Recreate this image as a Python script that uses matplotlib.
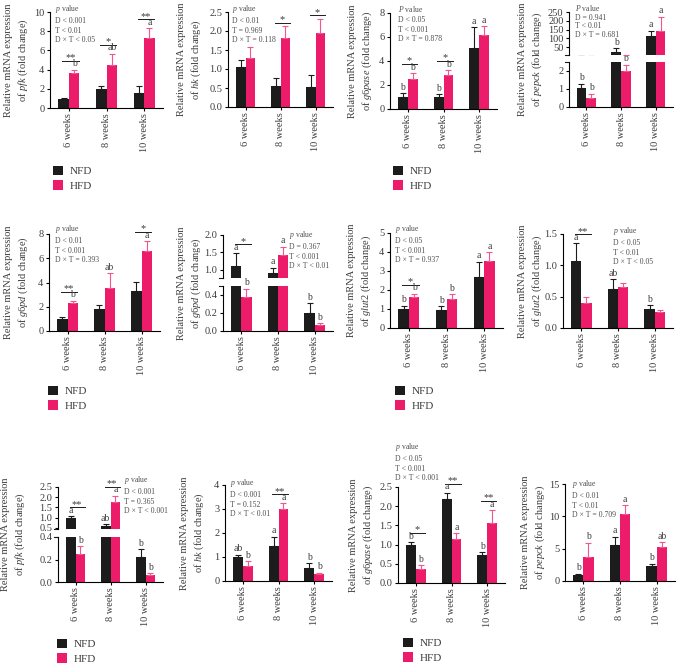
import numpy as np
import matplotlib
matplotlib.use("Agg")
import matplotlib.pyplot as plt
from matplotlib.patches import Patch

plt.rcParams["font.family"] = ["Liberation Serif", "DejaVu Serif"]
plt.rcParams["mathtext.fontset"] = "custom"
plt.rcParams["mathtext.rm"] = "Liberation Serif"
plt.rcParams["mathtext.it"] = "Liberation Serif:italic"

W, H = 681, 664
BLACK = "#1c1c1c"
PINK = "#ec1c6b"
PINK_ERR = "#f2568f"
TEXT = "#3c3c3c"
BW = 0.28

weeks = ["6 weeks", "8 weeks", "10 weeks"]
groups = ["NFD", "HFD"]

# ---- row 1 ----
r1_pfk_nfd = [0.95, 2.0, 1.6]
r1_pfk_nfd_err = [0.1, 0.25, 0.7]
r1_pfk_hfd = [3.65, 4.45, 7.25]
r1_pfk_hfd_err = [0.35, 1.2, 1.05]

r1_hk_nfd = [1.05, 0.55, 0.52]
r1_hk_nfd_err = [0.2, 0.22, 0.32]
r1_hk_hfd = [1.3, 1.81, 1.96]
r1_hk_hfd_err = [0.27, 0.31, 0.36]

r1_g6pase_nfd = [1.0, 1.03, 5.1]
r1_g6pase_nfd_err = [0.3, 0.18, 1.7]
r1_g6pase_hfd = [2.53, 2.87, 6.18]
r1_g6pase_hfd_err = [0.45, 0.38, 0.7]

r1_pepck_nfd = [1.05, 22, 113]
r1_pepck_nfd_err = [0.25, 22, 30]
r1_pepck_hfd = [0.5, 2.0, 143]
r1_pepck_hfd_err = [0.25, 0.35, 80]

# ---- row 2 ----
r2_g6pd_nfd = [1.02, 1.8, 3.28]
r2_g6pd_nfd_err = [0.1, 0.33, 0.8]
r2_g6pd_hfd = [2.35, 3.56, 6.57]
r2_g6pd_hfd_err = [0.15, 1.2, 0.83]

r2_g6pd2_nfd = [1.12, 0.9, 0.2]
r2_g6pd2_nfd_err = [0.35, 0.16, 0.11]
r2_g6pd2_hfd = [0.38, 1.41, 0.066]
r2_g6pd2_hfd_err = [0.09, 0.25, 0.02]

r2_glut2_nfd = [1.0, 0.95, 2.68]
r2_glut2_nfd_err = [0.17, 0.2, 0.8]
r2_glut2_hfd = [1.65, 1.5, 3.5]
r2_glut2_hfd_err = [0.15, 0.28, 0.48]

r2_glut2b_nfd = [1.07, 0.63, 0.31]
r2_glut2b_nfd_err = [0.28, 0.15, 0.05]
r2_glut2b_hfd = [0.4, 0.65, 0.25]
r2_glut2b_hfd_err = [0.09, 0.07, 0.04]

# ---- row 3 ----
r3_pfk_nfd = [1.0, 0.59, 0.22]
r3_pfk_nfd_err = [0.06, 0.08, 0.07]
r3_pfk_hfd = [0.25, 1.78, 0.06]
r3_pfk_hfd_err = [0.07, 0.3, 0.02]

r3_hk_nfd = [0.99, 1.46, 0.54]
r3_hk_nfd_err = [0.1, 0.38, 0.2]
r3_hk_hfd = [0.63, 2.98, 0.29]
r3_hk_hfd_err = [0.2, 0.25, 0.05]

r3_g6pase_nfd = [1.0, 2.18, 0.73]
r3_g6pase_nfd_err = [0.07, 0.17, 0.08]
r3_g6pase_hfd = [0.37, 1.14, 1.55]
r3_g6pase_hfd_err = [0.1, 0.15, 0.35]

r3_pepck_nfd = [0.93, 5.55, 2.39]
r3_pepck_nfd_err = [0.2, 1.3, 0.3]
r3_pepck_hfd = [3.74, 10.3, 5.2]
r3_pepck_hfd_err = [2.2, 1.45, 0.8]

# letters (NFD, HFD) and significance stars per week
letters = {
    "r1_pfk": (["", "", ""], ["b", "ab", "a"]),
    "r1_hk": (["", "", ""], ["", "", ""]),
    "r1_g6pase": (["b", "b", "a"], ["b", "b", "a"]),
    "r1_pepck": (["b", "b", "a"], ["b", "b", "a"]),
    "r2_g6pd": (["", "", ""], ["b", "ab", "a"]),
    "r2_g6pd2": (["a", "a", "b"], ["b", "a", "b"]),
    "r2_glut2": (["b", "b", "a"], ["b", "b", "a"]),
    "r2_glut2b": (["a", "ab", "b"], ["", "", ""]),
    "r3_pfk": (["a", "ab", "b"], ["b", "a", "b"]),
    "r3_hk": (["ab", "a", "b"], ["b", "a", "b"]),
    "r3_g6pase": (["b", "a", "b"], ["b", "a", "a"]),
    "r3_pepck": (["b", "a", "b"], ["b", "a", "ab"]),
}
stars = {
    "r1_pfk": ["**", "*", "**"],
    "r1_hk": ["", "*", "*"],
    "r1_g6pase": ["*", "*", ""],
    "r1_pepck": ["", "", ""],
    "r2_g6pd": ["**", "", "*"],
    "r2_g6pd2": ["*", "", ""],
    "r2_glut2": ["*", "", ""],
    "r2_glut2b": ["**", "", ""],
    "r3_pfk": ["**", "**", ""],
    "r3_hk": ["", "**", ""],
    "r3_g6pase": ["*", "**", "**"],
    "r3_pepck": ["", "", ""],
}
pvalues = {
    "r1_pfk": "$p$ value\nD < 0.001\nT < 0.01\nD × T < 0.05",
    "r1_hk": "$p$ value\nD < 0.01\nT = 0.969\nD × T = 0.118",
    "r1_g6pase": "$P$ value\nD < 0.05\nT < 0.001\nD × T = 0.878",
    "r1_pepck": "$P$ value\nD = 0.941\nT < 0.01\nD × T = 0.681",
    "r2_g6pd": "$p$ value\nD < 0.01\nT < 0.001\nD × T = 0.393",
    "r2_g6pd2": "$p$ value\nD = 0.367\nT < 0.001\nD × T < 0.01",
    "r2_glut2": "$p$ value\nD < 0.05\nT < 0.001\nD × T = 0.937",
    "r2_glut2b": "$p$ value\nD < 0.05\nT < 0.01\nD × T < 0.05",
    "r3_pfk": "$p$ value\nD < 0.001\nT = 0.365\nD × T < 0.001",
    "r3_hk": "$p$ value\nD < 0.001\nT = 0.152\nD × T < 0.01",
    "r3_g6pase": "$p$ value\nD < 0.05\nT < 0.001\nD × T < 0.001",
    "r3_pepck": "$p$ value\nD < 0.01\nT < 0.01\nD × T = 0.709",
}

x = np.arange(len(weeks))
fig = plt.figure(figsize=(W / 100, H / 100), dpi=100)


def pbox(l, t, r, b):
    return [l / W, 1 - b / H, (r - l) / W, (b - t) / H]


def style(ax, bottom):
    for s in ("top", "right"):
        ax.spines[s].set_visible(False)
    ax.spines["left"].set_linewidth(0.8)
    ax.spines["bottom"].set_linewidth(0.8)
    ax.tick_params(axis="y", length=2.5, width=0.8, labelsize=7.5, labelcolor=TEXT, pad=1.5)
    ax.set_xlim(-0.5, 2.5)
    if bottom:
        ax.set_xticks(x)
        ax.set_xticklabels(weeks, rotation=90)
        ax.tick_params(axis="x", length=2, width=0.8, labelsize=7.5, labelcolor=TEXT, pad=2)
    else:
        ax.spines["bottom"].set_visible(False)
        ax.set_xticks([])


def draw_bars(ax, nfd, nfd_err, hfd, hfd_err):
    ax.bar(x - BW / 2, nfd, BW, color=BLACK, zorder=2)
    ax.bar(x + BW / 2, hfd, BW, color=PINK, zorder=2)
    ax.errorbar(x - BW / 2, nfd, yerr=[np.zeros(3), nfd_err], fmt="none", ecolor=BLACK,
                elinewidth=0.8, capsize=2.2, capthick=0.8, zorder=3)
    ax.errorbar(x + BW / 2, hfd, yerr=[np.zeros(3), hfd_err], fmt="none", ecolor=PINK_ERR,
                elinewidth=0.8, capsize=2.2, capthick=0.8, zorder=3)


def pick(axes, v):
    if len(axes) == 1 or v <= axes[0][1][1]:
        return axes[0][0]
    return axes[1][0]


def draw_panel(key, gene, data, box, ylim, yticks, fmt, pval_xy, label_x, split=None, lsp=1.3):
    nfd, nfd_err, hfd, hfd_err = data
    l, t, r, b = box
    if split:
        ub, lt, ylim2, yticks2 = split
        lo = fig.add_axes(pbox(l, lt, r, b))
        up = fig.add_axes(pbox(l, t, r, ub))
        axes = [(lo, ylim, yticks), (up, ylim2, yticks2)]
    else:
        lo = fig.add_axes(pbox(l, t, r, b))
        axes = [(lo, ylim, yticks)]
    for i, (ax, lim, ticks) in enumerate(axes):
        draw_bars(ax, nfd, nfd_err, hfd, hfd_err)
        ax.set_ylim(lim)
        ax.set_yticks(ticks)
        ax.set_yticklabels([fmt.format(v) for v in ticks])
        style(ax, bottom=(i == 0))
    if split:
        axes[0][0].plot([-0.035, 0], [1, 1], transform=axes[0][0].transAxes, color=BLACK, lw=0.8, clip_on=False)
        axes[1][0].plot([-0.035, 0], [0, 0], transform=axes[1][0].transAxes, color=BLACK, lw=0.8, clip_on=False)

    nl, hl = letters[key]
    for i in range(3):
        for off, vals, errs, lets in ((-BW / 2, nfd, nfd_err, nl), (BW / 2, hfd, hfd_err, hl)):
            if lets[i]:
                top = vals[i] + errs[i]
                ax = pick(axes, top)
                ax.annotate(lets[i], (i + off, top), xytext=(0, 1), textcoords="offset points",
                            ha="center", va="bottom", fontsize=7, color=TEXT, annotation_clip=False)
    for i, s in enumerate(stars[key]):
        if not s:
            continue
        top = max(nfd[i] + nfd_err[i], hfd[i] + hfd_err[i])
        ax = pick(axes, top)
        pad = 9 if (nl[i] or hl[i]) else 3.5
        yd = ax.transData.transform((i, top))[1] + pad
        y = ax.transData.inverted().transform((0, yd))[1]
        ax.plot([i - 0.17, i + 0.26], [y, y], color=BLACK, lw=0.7, clip_on=False)
        ax.annotate(s, (i + 0.045, y), xytext=(0, 0.5), textcoords="offset points",
                    ha="center", va="baseline", fontsize=7.5, color=TEXT, annotation_clip=False)

    fig.text(pval_xy[0] / W, 1 - pval_xy[1] / H, pvalues[key], ha="left", va="top",
             fontsize=5.6, color="#505050", linespacing=lsp)
    fig.text(label_x / W, 1 - (t + b) / 2 / H,
             "Relative mRNA expression\nof $\\mathit{" + gene + "}$ (fold change)",
             rotation=90, ha="center", va="center", fontsize=7.5, color=TEXT,
             linespacing=1.3, multialignment="center")


i1 = "{:g}"
f1 = "{:.1f}"
draw_panel("r1_pfk", "pfk", (r1_pfk_nfd, r1_pfk_nfd_err, r1_pfk_hfd, r1_pfk_hfd_err),
           (50, 12, 163, 108), (0, 10), [0, 2, 4, 6, 8, 10], i1, (55, 3), 17)
draw_panel("r1_hk", "hk", (r1_hk_nfd, r1_hk_nfd_err, r1_hk_hfd, r1_hk_hfd_err),
           (228, 12, 333, 107), (0, 2.5), [0, 0.5, 1, 1.5, 2, 2.5], f1, (232, 3), 190)
draw_panel("r1_g6pase", "g6pase", (r1_g6pase_nfd, r1_g6pase_nfd_err, r1_g6pase_hfd, r1_g6pase_hfd_err),
           (390, 13, 497, 109), (0, 8), [0, 2, 4, 6, 8], i1, (398, 4), 361)
draw_panel("r1_pepck", "pepck", (r1_pepck_nfd, r1_pepck_nfd_err, r1_pepck_hfd, r1_pepck_hfd_err),
           (569, 12, 673, 107), (0, 2.5), [0, 1, 2], i1, (575, 3), 531,
           split=(55, 62, (5, 250), [50, 100, 150, 200, 250]), lsp=1.12)

draw_panel("r2_g6pd", "g6pd", (r2_g6pd_nfd, r2_g6pd_nfd_err, r2_g6pd_hfd, r2_g6pd_hfd_err),
           (49, 234, 160, 331), (0, 8), [0, 2, 4, 6, 8], i1, (55, 223), 17)
draw_panel("r2_g6pd2", "g6pd", (r2_g6pd2_nfd, r2_g6pd2_nfd_err, r2_g6pd2_hfd, r2_g6pd2_hfd_err),
           (223, 235, 333, 331), (0, 0.5), [0, 0.2, 0.4], f1, (289, 229), 190,
           split=(278, 286, (0.76, 2.0), [1.0, 1.5, 2.0]))
draw_panel("r2_glut2", "glut2", (r2_glut2_nfd, r2_glut2_nfd_err, r2_glut2_hfd, r2_glut2_hfd_err),
           (390, 233, 503, 328), (0, 5), [0, 1, 2, 3, 4, 5], i1, (395, 223), 360)
draw_panel("r2_glut2b", "glut2", (r2_glut2b_nfd, r2_glut2b_nfd_err, r2_glut2b_hfd, r2_glut2b_hfd_err),
           (563, 234, 673, 328), (0, 1.5), [0, 0.5, 1.0, 1.5], f1, (613, 225), 531)

draw_panel("r3_pfk", "pfk", (r3_pfk_nfd, r3_pfk_nfd_err, r3_pfk_hfd, r3_pfk_hfd_err),
           (58, 487, 163, 582), (0, 0.4), [0, 0.2, 0.4], f1, (124, 474), 14,
           split=(529, 537, (0.44, 2.5), [0.5, 1.0, 1.5, 2.0, 2.5]))
draw_panel("r3_hk", "hk", (r3_hk_nfd, r3_hk_nfd_err, r3_hk_hfd, r3_hk_hfd_err),
           (225, 485, 332, 581), (0, 4), [0, 1, 2, 3, 4], i1, (230, 477), 193)
draw_panel("r3_g6pase", "g6pase", (r3_g6pase_nfd, r3_g6pase_nfd_err, r3_g6pase_hfd, r3_g6pase_hfd_err),
           (398, 487, 505, 583), (0, 2.5), [0, 0.5, 1.0, 1.5, 2.0, 2.5], f1, (395, 441), 362)
draw_panel("r3_pepck", "pepck", (r3_pepck_nfd, r3_pepck_nfd_err, r3_pepck_hfd, r3_pepck_hfd_err),
           (565, 484, 675, 581), (0, 15), [0, 5, 10, 15], i1, (572, 478), 534)

handles = [Patch(facecolor=BLACK), Patch(facecolor=PINK)]
for lx, ly in [(53, 166), (393, 166), (48, 386), (395, 386), (57, 639), (403, 638)]:
    fig.legend(handles, groups, loc="upper left", bbox_to_anchor=(lx / W, 1 - ly / H),
               frameon=False, fontsize=8, handlelength=0.9, handleheight=0.9,
               handletextpad=0.6, labelspacing=0.35, borderpad=0, borderaxespad=0,
               labelcolor=TEXT)

fig.savefig("out.png", dpi=100, facecolor="white")
